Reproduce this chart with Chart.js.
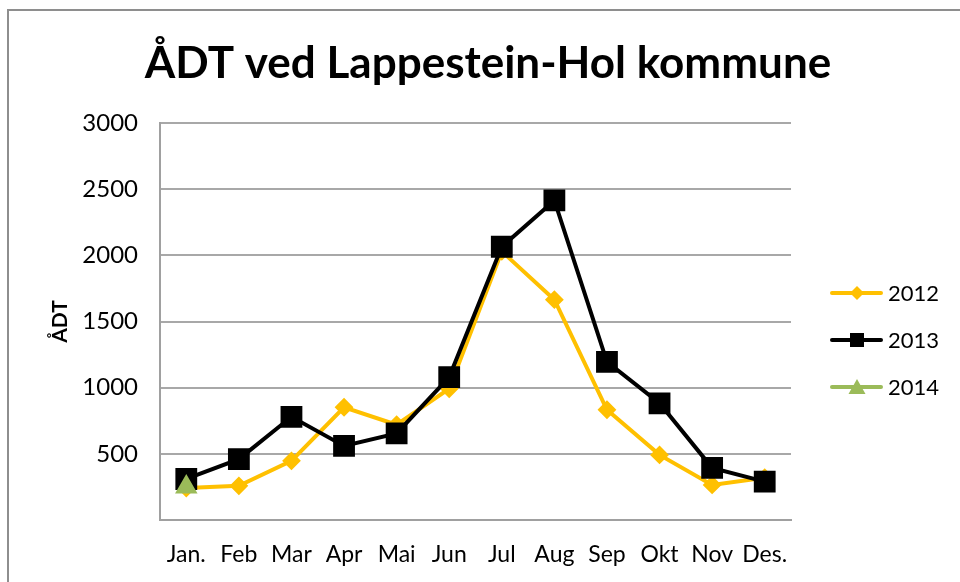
<!DOCTYPE html>
<html>
<head>
<meta charset="utf-8">
<script src="https://cdn.jsdelivr.net/npm/chart.js@4/dist/chart.umd.min.js"></script>
<style>
  html, body { margin: 0; padding: 0; background: #ffffff; }
  #wrap { position: relative; width: 960px; height: 582px; overflow: hidden; background: #fff; }
  #frame { position: absolute; left: 7px; top: 9px; width: 1000px; height: 1000px;
           border-left: 2px solid #8e8e8e; border-top: 2px solid #8e8e8e; }
  #c { position: absolute; left: 0; top: 0; }
</style>
</head>
<body>
<div id="wrap">
  <div id="frame"></div>
  <canvas id="c" width="960" height="582"></canvas>
</div>
<script>
// ---- data ----
const chartTitle = 'ÅDT ved Lappestein-Hol kommune';
const yAxisTitle = 'ÅDT';
const categories = ['Jan.', 'Feb', 'Mar', 'Apr', 'Mai', 'Jun', 'Jul', 'Aug', 'Sep', 'Okt', 'Nov', 'Des.'];
const seriesNames = ['2012', '2013', '2014'];
const values2012 = [242, 258, 447, 852, 720, 992, 2030, 1665, 833, 492, 265, 320];
const values2013 = [310, 460, 780, 560, 655, 1080, 2065, 2415, 1195, 882, 394, 290];
const values2014 = [250, null, null, null, null, null, null, null, null, null, null, null];
const yTicks = [0, 500, 1000, 1500, 2000, 2500, 3000];

const FONT = 'Lato, "Open Sans", "DejaVu Sans", sans-serif';
const colors = ['#FFC000', '#000000', '#9BBB59'];

const titlePlugin = {
  id: 'excelTitle',
  afterDraw(chart) {
    const ctx = chart.ctx;
    ctx.save();
    ctx.fillStyle = '#000';
    ctx.font = 'bold 44px ' + FONT;
    ctx.textAlign = 'center';
    ctx.textBaseline = 'alphabetic';
    ctx.fillText(chartTitle, 488, 78);
    ctx.restore();
  }
};

const legendPlugin = {
  id: 'excelLegend',
  afterDraw(chart) {
    const ctx = chart.ctx;
    const rows = [293, 340, 387];
    chart.data.datasets.forEach((ds, i) => {
      const y = rows[i];
      ctx.save();
      ctx.strokeStyle = ds.borderColor;
      ctx.lineWidth = 4;
      ctx.lineCap = 'round';
      ctx.beginPath();
      ctx.moveTo(832, y);
      ctx.lineTo(881, y);
      ctx.stroke();
      ctx.fillStyle = ds.backgroundColor;
      ctx.beginPath();
      const cx = 857;
      if (ds.pointStyle === 'rectRot') {
        const r = 7;
        ctx.moveTo(cx - r, y); ctx.lineTo(cx, y - r); ctx.lineTo(cx + r, y); ctx.lineTo(cx, y + r);
      } else if (ds.pointStyle === 'rect') {
        ctx.rect(cx - 7, y - 7, 14, 14);
      } else {
        ctx.moveTo(cx, y - 8); ctx.lineTo(cx + 8.5, y + 7); ctx.lineTo(cx - 8.5, y + 7);
      }
      ctx.closePath();
      ctx.fill();
      ctx.fillStyle = '#000';
      ctx.font = '22px ' + FONT;
      ctx.textAlign = 'left';
      ctx.textBaseline = 'middle';
      ctx.fillText(ds.label, 888, y + 1);
      ctx.restore();
    });
  }
};

new Chart(document.getElementById('c'), {
  type: 'line',
  data: {
    labels: categories,
    datasets: [
      { label: seriesNames[0], data: values2012, borderColor: colors[0], backgroundColor: colors[0],
        borderWidth: 4, pointStyle: 'rectRot', pointRadius: 8, pointBorderWidth: 2,
        pointBorderColor: colors[0], pointBackgroundColor: colors[0], order: 2, tension: 0 },
      { label: seriesNames[1], data: values2013, borderColor: colors[1], backgroundColor: colors[1],
        borderWidth: 4, pointStyle: 'rect', pointRadius: 14, pointBorderWidth: 2,
        pointBorderColor: colors[1], pointBackgroundColor: colors[1], order: 1, tension: 0 },
      { label: seriesNames[2], data: values2014, borderColor: colors[2], backgroundColor: colors[2],
        borderWidth: 4, pointStyle: 'triangle', pointRadius: 11, pointBorderWidth: 2,
        pointBorderColor: colors[2], pointBackgroundColor: colors[2], order: 0, tension: 0 }
    ]
  },
  options: {
    responsive: false,
    animation: false,
    layout: { padding: { top: 123, right: 169, bottom: 0, left: 0 } },
    plugins: {
      legend: { display: false },
      title: { display: false },
      tooltip: { enabled: false }
    },
    scales: {
      x: {
        offset: true,
        grid: { display: false, drawTicks: false },
        border: { display: true, color: '#a0a0a0', width: 2 },
        ticks: { color: '#000', font: { family: FONT, size: 23 }, padding: 21, maxRotation: 0, autoSkip: false },
        afterFit(scale) { scale.height = 62; }
      },
      y: {
        min: yTicks[0],
        max: yTicks[yTicks.length - 1],
        afterBuildTicks(scale) { scale.ticks = yTicks.map(v => ({ value: v })); },
        grid: { color: '#a8a8a8', lineWidth: 2, drawTicks: false },
        border: { display: true, color: '#a0a0a0', width: 2 },
        ticks: { color: '#000', font: { family: FONT, size: 24 }, padding: 22,
                 callback: (v) => (v === 0 ? '' : String(v)) },
        title: { display: true, text: yAxisTitle, color: '#000',
                 font: { family: FONT, size: 21, weight: 'bold' }, padding: { top: 48, bottom: 0 } },
        afterFit(scale) { scale.width = 160; }
      }
    }
  },
  plugins: [titlePlugin, legendPlugin]
});
</script>
</body>
</html>
